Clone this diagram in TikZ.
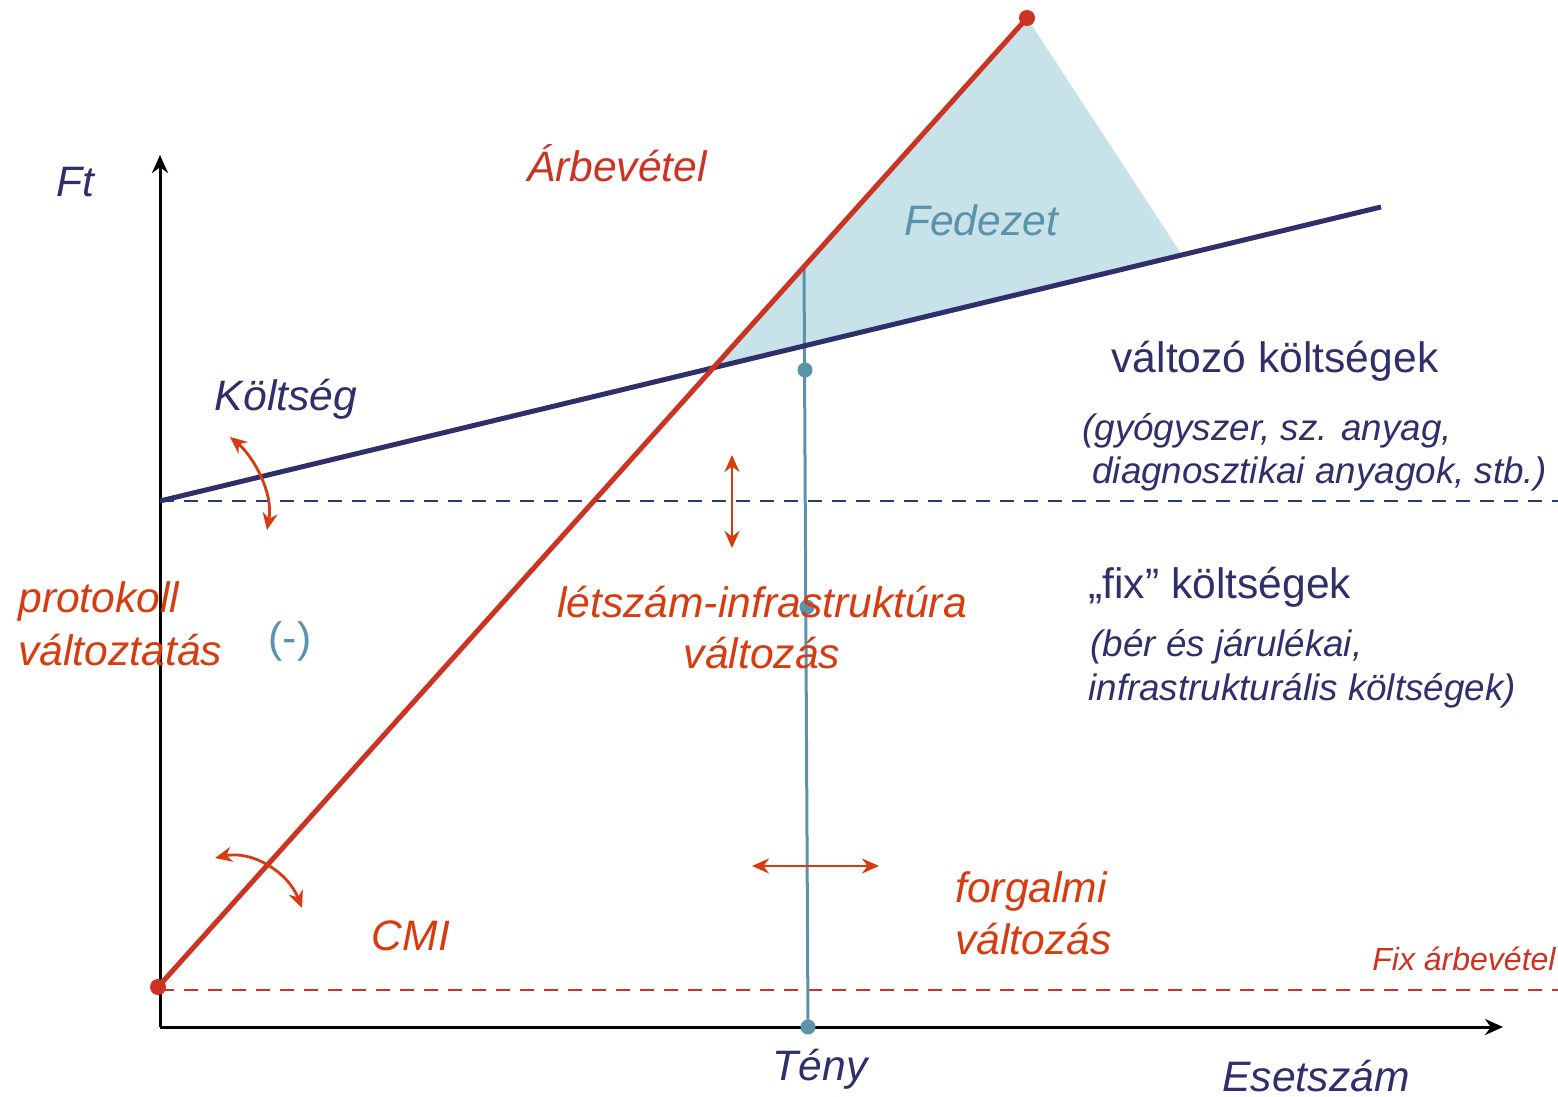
\documentclass[tikz,border=0pt]{standalone}
\usepackage{fontspec}
\setmainfont{Liberation Sans}
\usetikzlibrary{arrows.meta,calc}
\definecolor{navy}{HTML}{2F2F6B}
\definecolor{dnavy}{HTML}{1F3F6F}
\definecolor{redl}{HTML}{CC3322}
\definecolor{oran}{HTML}{D63C10}
\definecolor{teal}{HTML}{5A93AB}
\definecolor{fedfill}{HTML}{C8E2EA}
\begin{document}
\begin{tikzpicture}[x=0.5pt,y=-0.5pt,
  big/.style={font=\fontsize{21.3}{25}\selectfont\itshape, inner sep=0pt, anchor=base},
  bigup/.style={font=\fontsize{21.3}{25}\selectfont, inner sep=0pt, anchor=base},
  mid/.style={font=\fontsize{18.4}{22}\selectfont\itshape, inner sep=0pt, anchor=base west},
  axis/.style={line width=1.5pt, -{Stealth[length=9pt,width=8pt]}},
  varr/.style={oran, line width=1.4pt, {Stealth[length=8.5pt,width=7.5pt]}-{Stealth[length=8.5pt,width=7.5pt]}},
  dot/.style={circle, fill=#1, inner sep=0pt, minimum size=8pt}]
\useasboundingbox (0,0) rectangle (1558,1097);
% coordinates
\coordinate (O) at (160,1027);
\coordinate (ytip) at (160,155);
\coordinate (xtip) at (1503,1027);
\coordinate (r1) at (158,987);
\coordinate (r2) at (1027,18);
\coordinate (c1) at (160,501);
\coordinate (c2) at (1381,207);
\coordinate (bep) at (713.5,367.7);
\coordinate (fr) at ($(c1)!0.837!(c2)$);
\coordinate (tt) at (804,267);
\coordinate (tb) at (808,1027);
\coordinate (fixL) at (160,501);
\coordinate (fixR) at (1558,501);
\coordinate (revL) at (160,990);
\coordinate (revR) at (1558,990);
% fedezet area
\fill[fedfill] (bep) -- (r2) -- (fr) -- cycle;
% dashed lines
\draw[dnavy, line width=1pt, dash pattern=on 7pt off 5pt] (fixL) -- (fixR);
\draw[redl, line width=1pt, dash pattern=on 7pt off 5pt] (revL) -- (revR);
% axes
\draw[axis] (O) -- (ytip);
\draw[axis] (O) -- (xtip);
% teal vertical
\draw[teal, line width=1.5pt] (tt) -- (tb);
% cost line
\draw[navy, line width=2.5pt] (c1) -- (c2);
% revenue line
\draw[redl, line width=2.5pt] (r1) -- (r2);
\node[dot=redl] (d1) at (r1) {};
\node[dot=redl] (d2) at (r2) {};
\node[dot=teal, minimum size=7.5pt] (t1) at (805,370) {};
\node[dot=teal, minimum size=7.5pt] (t2) at (807,607) {};
\node[dot=teal, minimum size=7.5pt] (t3) at (tb) {};
% arrows
\coordinate (k1) at (230,437);
\coordinate (k2) at (267,530);
\draw[varr] (k1) .. controls (252,455) and (274,492) .. (k2);
\coordinate (m1) at (215,858);
\coordinate (m2) at (302,908);
\draw[varr] (m1) .. controls (252,850) and (288,872) .. (m2);
\coordinate (v1) at (732,455);
\coordinate (v2) at (732,548);
\draw[varr] (v1) -- (v2);
\coordinate (h1) at (752,866);
\coordinate (h2) at (879,866);
\draw[varr] (h1) -- (h2);
% texts
\node[big, navy] (ft) at (75,196) {Ft};
\node[big, redl] (arb) at (617,181) {Árbevétel};
\node[big, teal] (fed) at (981,235) {Fedezet};
\node[big, navy] (kolt) at (286,410) {Költség};
\node[bigup, navy] (valt) at (1275,372) {változó költségek};
\node[mid, navy] (p1) at (1082,440) {(gyógyszer, sz. anyag,};
\node[mid, navy] (p2) at (1092,483) {diagnosztikai anyagok, stb.)};
\node[bigup, navy, anchor=base west] (fix) at (1088,598) {„fix” költségek};
\node[mid, navy] (b1) at (1090,656) {(bér és járulékai,};
\node[mid, navy] (b2) at (1088,700) {infrastrukturális költségek)};
\node[big, oran, anchor=base west] (pr1) at (18,612) {protokoll};
\node[big, oran, anchor=base west] (pr2) at (18,665) {változtatás};
\node[bigup, teal] (neg) at (290,652) {(-)};
\node[big, oran] (le1) at (762,617) {létszám-infrastruktúra};
\node[big, oran] (le2) at (762,668) {változás};
\node[big, oran, anchor=base west] (fo1) at (955,902) {forgalmi};
\node[big, oran, anchor=base west] (fo2) at (955,954) {változás};
\node[big, oran] (cmi) at (411,950) {CMI};
\node[font=\fontsize{16}{19}\selectfont\itshape, redl, inner sep=0pt, anchor=base east] (fa) at (1556,970) {Fix árbevétel};
\node[big, navy] (teny) at (820,1080) {Tény};
\node[big, navy] (eset) at (1316,1091) {Esetszám};
\end{tikzpicture}
\end{document}
